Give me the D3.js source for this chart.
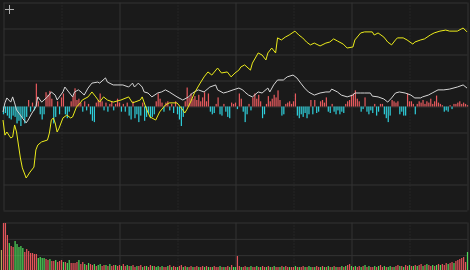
<!DOCTYPE html>
<html>
<head>
<meta charset="utf-8">
<script src="https://cdn.jsdelivr.net/npm/d3@7"></script>
<style>
  html, body { margin: 0; padding: 0; background: #1a1a1a; overflow: hidden; }
  svg { display: block; }
</style>
</head>
<body>
<div id="chart"></div>
<script>
'use strict';

// price line (yellow): minute index and change, 1 unit = one grid row
const priceMin = [0, 1, 2, 4, 5, 6, 7, 8, 9, 10, 12, 14, 16, 17, 18, 20, 23, 24, 25, 26, 27, 28, 29, 31, 33, 35, 36, 38, 40, 41, 44, 46, 48, 50, 52, 54, 57, 61, 65, 67, 71, 72, 74, 76, 79, 81, 84, 86, 90, 93, 94, 95, 97, 99, 102, 104, 106, 108, 111, 113, 116, 118, 120, 122, 123, 125, 128, 129, 132, 134, 136, 137, 139, 141, 142, 144, 146, 148, 151, 153, 155, 157, 159, 161, 164, 167, 169, 171, 173, 176, 178, 181, 182, 185, 187, 191, 192, 194, 197, 199, 201, 203, 204, 207, 209, 212, 213, 216, 218, 221, 223, 226, 229, 231, 235, 237, 238, 240];
const priceVal = [-0.54, -1.12, -1.00, -1.23, -1.19, -0.73, -1.00, -1.50, -2.00, -2.38, -2.77, -2.54, -2.35, -1.69, -1.50, -1.38, -1.31, -1.04, -0.54, -0.46, -0.65, -1.00, -0.85, -0.46, -0.35, -0.46, -0.42, -0.04, 0.12, 0.23, 0.35, 0.54, 0.35, 0.15, 0.35, 0.23, 0.15, 0.23, 0.35, 0.12, 0.23, 0.35, -0.08, -0.42, -0.54, -0.23, 0.04, 0.12, 0.12, -0.15, -0.27, -0.15, 0.15, 0.50, 0.88, 1.12, 1.31, 1.19, 1.46, 1.27, 1.31, 1.12, 1.27, 1.38, 1.50, 1.58, 1.38, 1.65, 2.04, 1.96, 1.77, 2.04, 2.23, 2.04, 2.62, 2.54, 2.65, 2.73, 2.88, 2.73, 2.62, 2.46, 2.35, 2.42, 2.31, 2.42, 2.46, 2.58, 2.50, 2.38, 2.23, 2.27, 2.54, 2.81, 2.85, 2.85, 2.73, 2.81, 2.65, 2.46, 2.35, 2.54, 2.62, 2.62, 2.54, 2.38, 2.46, 2.54, 2.58, 2.73, 2.81, 2.88, 2.92, 2.88, 2.88, 2.96, 3.00, 2.85];

// average line (white)
const avgMin = [0, 1, 2, 4, 5, 6, 7, 9, 10, 12, 13, 15, 17, 18, 20, 23, 25, 27, 28, 31, 32, 34, 36, 37, 39, 41, 42, 44, 46, 49, 50, 53, 54, 57, 59, 62, 65, 67, 68, 70, 72, 73, 75, 77, 80, 82, 84, 86, 90, 93, 96, 98, 101, 104, 107, 110, 111, 114, 116, 119, 122, 124, 125, 127, 129, 132, 134, 137, 138, 140, 142, 145, 147, 150, 152, 154, 156, 158, 161, 164, 167, 169, 170, 173, 175, 178, 181, 182, 185, 187, 190, 191, 194, 197, 199, 201, 203, 205, 208, 211, 213, 216, 217, 220, 222, 225, 228, 231, 235, 238, 240];
const avgVal = [-0.23, 0.12, 0.31, 0.15, 0.35, 0.12, -0.15, -0.35, -0.46, -0.65, -0.54, -0.27, -0.04, 0.35, 0.15, 0.35, 0.54, 0.42, 0.23, 0.54, 0.73, 0.54, 0.35, 0.54, 0.62, 0.50, 0.42, 0.69, 0.88, 0.92, 0.88, 1.08, 0.92, 0.81, 0.81, 0.81, 0.73, 0.88, 0.73, 0.88, 0.73, 0.54, 0.50, 0.35, 0.50, 0.54, 0.62, 0.54, 0.35, 0.23, 0.35, 0.50, 0.62, 0.54, 0.73, 0.81, 0.62, 0.50, 0.54, 0.62, 0.69, 0.62, 0.54, 0.42, 0.35, 0.54, 0.50, 0.69, 0.54, 0.81, 1.00, 1.00, 1.12, 1.19, 1.08, 0.88, 0.69, 0.54, 0.42, 0.50, 0.54, 0.54, 0.65, 0.54, 0.42, 0.35, 0.42, 0.50, 0.50, 0.50, 0.50, 0.38, 0.35, 0.27, 0.15, 0.31, 0.50, 0.54, 0.50, 0.42, 0.31, 0.31, 0.35, 0.42, 0.50, 0.62, 0.62, 0.65, 0.73, 0.81, 0.69];

// net flow bars around the zero line, one per minute
const netFlow = [
  -0.30, -0.25, -0.35, -0.45, -0.50, -0.35, -0.40, -0.65, -0.55, -0.75,
  -0.45, -0.65, -0.40, 0.25, -0.20, 0.15, -0.15, 0.88, 0.20, -0.30,
  -0.50, -0.30, 0.55, 0.45, 0.60, 0.30, -0.65, -0.40, 0.20, -0.30,
  0.35, 0.50, -0.30, -0.45, -0.20, 0.20, 0.40, 0.70, 0.25, 0.30,
  0.15, -0.20, 0.20, -0.15, 0.10, -0.30, -0.55, -0.60, 0.15, 0.25,
  0.50, 0.20, -0.15, 0.15, -0.20, 0.10, 0.20, -0.15, 0.10, 0.30,
  0.15, -0.20, 0.10, -0.20, 0.15, -0.35, -0.50, 0.20, -0.45, -0.30,
  -0.60, -0.35, 0.15, -0.55, -0.40, -0.25, -0.45, -0.40, -0.30, 0.20,
  0.50, 0.30, 0.15, -0.20, 0.15, 0.20, -0.15, 0.10, -0.25, 0.20,
  -0.30, -0.50, -0.75, -0.40, 0.20, 0.73, 0.35, 0.50, 0.30, 0.40,
  0.25, 0.45, 0.20, 0.35, 0.55, 0.20, 0.50, -0.20, -0.30, -0.25,
  0.10, 0.35, -0.30, -0.35, 0.10, -0.20, -0.40, -0.45, 0.15, 0.10,
  0.15, -0.10, 0.50, 0.30, -0.20, -0.60, -0.30, 0.10, -0.15, 0.35,
  0.50, 0.30, 0.45, 0.20, -0.45, -0.30, 0.10, 0.40, 0.20, 0.30,
  0.45, 0.35, 0.62, 0.25, -0.35, -0.30, 0.10, 0.15, 0.20, 0.10,
  0.20, 0.50, -0.35, -0.45, -0.30, -0.40, -0.25, -0.45, -0.30, 0.25,
  -0.30, 0.25, -0.25, -0.20, 0.20, 0.25, 0.15, 0.35, -0.20, -0.25,
  0.10, -0.20, -0.30, -0.15, -0.30, -0.20, -0.25, 0.10, 0.20, 0.25,
  0.45, 0.50, 0.62, 0.30, 0.20, -0.20, -0.10, 0.35, -0.20, -0.30,
  -0.15, -0.25, 0.10, -0.35, -0.20, 0.10, 0.10, -0.30, -0.45, -0.60,
  -0.35, 0.25, 0.20, 0.15, 0.20, -0.30, -0.20, -0.35, -0.35, 0.50,
  0.20, 0.20, 0.10, -0.30, 0.10, 0.20, 0.15, 0.25, 0.10, 0.20,
  0.15, 0.30, 0.10, 0.20, 0.42, 0.15, 0.10, 0.05, -0.20, -0.15,
  -0.20, 0.05, -0.10, 0.10, 0.10, 0.15, 0.20, 0.10, 0.15, 0.10, 0.05
];

// volume per minute and its direction (r = up, g = down)
const volume = [
  48, 48, 36, 28, 25, 24, 30, 27, 24, 25,
  23, 19, 22, 20, 18, 18, 17, 17, 13, 14,
  13, 13, 12, 11, 12, 10, 10, 11, 9, 10,
  11, 9, 9, 8, 11, 8, 8, 8, 9, 11,
  7, 9, 7, 6, 8, 7, 6, 7, 5, 6,
  7, 5, 6, 6, 5, 7, 5, 6, 6, 5,
  6, 5, 7, 5, 6, 5, 5, 6, 4, 5,
  5, 6, 4, 5, 5, 4, 6, 5, 5, 4,
  5, 4, 5, 4, 4, 5, 6, 4, 5, 4,
  4, 5, 6, 4, 5, 4, 4, 5, 4, 4,
  5, 4, 4, 5, 4, 5, 4, 4, 4, 5,
  4, 4, 5, 4, 4, 4, 5, 4, 6, 4,
  4, 15, 5, 4, 4, 5, 4, 4, 5, 4,
  4, 5, 4, 4, 5, 4, 4, 5, 4, 4,
  5, 4, 4, 4, 5, 4, 5, 4, 4, 4,
  4, 5, 4, 4, 4, 5, 4, 4, 5, 4,
  4, 4, 5, 4, 4, 5, 4, 4, 5, 4,
  4, 5, 4, 4, 4, 5, 4, 5, 6, 7,
  5, 4, 5, 4, 5, 4, 5, 6, 4, 5,
  4, 4, 5, 4, 5, 6, 4, 5, 4, 4,
  5, 4, 4, 5, 6, 5, 5, 4, 6, 5,
  6, 5, 5, 6, 5, 6, 7, 5, 6, 7,
  6, 5, 6, 5, 6, 7, 6, 7, 6, 8,
  7, 8, 9, 8, 10, 11, 12, 13, 14, 9, 19
];
const volDir = (
  'rrrgrrgggg' + 'grrrrrrrgg' + 'ggrrgrrgrr' + 'rgrggrrrrg' +
  'rrgrgrrgrg' + 'grrgrgrrgr' + 'rgrrgrgrrg' + 'rrgrgrrgrg' +
  'grgrrgrgrr' + 'grrgrgrrgr' + 'rgrrgrgrgr' + 'rrgrgrrgrg' +
  'grrgrrgrgr' + 'rgrgrrgrgr' + 'grrgrgrrgr' + 'rgrgrrgrgg' +
  'rgrrgrgrgr' + 'grgrrgrgrr' + 'grgrrgrgrg' + 'rrgrgrrgrg' +
  'grgrrgrgrr' + 'grgrgrrgrg' + 'rrgrgrgrrr' + 'grrgrrrrrr' + 'g'
).split('');
const auctionVolume = 21;

const timeTicks = [0, 30, 60, 90, 120, 150, 180, 210, 240];
const priceTicks = [-4, -3, -2, -1, 0, 1, 2, 3, 4];
const volTicks = [0, 49 / 3, 98 / 3, 49];

const colors = {
  bg: '#1a1a1a',
  grid: '#333333',
  price: '#ecec1a',
  avg: '#d6d6d6',
  up: '#e85a5e',
  down: '#2fd0dc',
  volUp: '#e4545a',
  volDown: '#4fd85a',
  auction: '#b8a458'
};

const width = 470, height = 270;
const barW = 1.2;

const svg = d3.select('#chart').append('svg')
  .attr('width', width)
  .attr('height', height);

svg.append('rect')
  .attr('width', width)
  .attr('height', height)
  .attr('fill', colors.bg);

const x = d3.scaleLinear().domain([0, 240]).range([3, 467]);
const y = d3.scaleLinear().domain([-4, 4]).range([210, 2]);
const yVol = d3.scaleLinear().domain([0, 49]).range([271, 222]);

// grid for a panel
function drawGrid(yScale, ticks) {
  const [bottom, top] = yScale.range();

  const gy = svg.append('g')
    .attr('transform', 'translate(3.5,0.5)')
    .call(d3.axisLeft(yScale).tickValues(ticks).tickSize(-(467 - 3)).tickFormat(''));
  gy.select('.domain').remove();
  gy.selectAll('line').attr('stroke', colors.grid);

  const gx = svg.append('g')
    .attr('transform', 'translate(0.5,' + (bottom + 0.5) + ')')
    .call(d3.axisBottom(x).tickValues(timeTicks).tickSize(-(bottom - top)).tickFormat(''));
  gx.select('.domain').remove();
  gx.selectAll('line')
    .attr('stroke', colors.grid)
    .attr('stroke-dasharray', d => (d % 60 === 30) ? '1,2' : null);
}

drawGrid(y, priceTicks);
drawGrid(yVol, volTicks);

// net flow bars
svg.append('g')
  .selectAll('rect')
  .data(netFlow)
  .join('rect')
    .attr('x', (d, i) => x(i) - barW / 2 + 0.5)
    .attr('y', d => Math.min(y(d), y(0)) + 0.5)
    .attr('width', barW)
    .attr('height', d => Math.abs(y(d) - y(0)))
    .attr('fill', d => d >= 0 ? colors.up : colors.down);

// average and price lines
const avgData = avgMin.map((m, i) => ({ m: m, v: avgVal[i] }));
const priceData = priceMin.map((m, i) => ({ m: m, v: priceVal[i] }));
const line = d3.line().x(d => x(d.m)).y(d => y(d.v));

svg.append('path')
  .datum(avgData)
  .attr('d', line)
  .attr('fill', 'none')
  .attr('stroke', colors.avg)
  .attr('stroke-width', 1);

svg.append('path')
  .datum(priceData)
  .attr('d', line)
  .attr('fill', 'none')
  .attr('stroke', colors.price)
  .attr('stroke-width', 1);

// volume bars
svg.append('g')
  .selectAll('rect')
  .data(volume)
  .join('rect')
    .attr('x', (d, i) => x(i) - barW / 2 + 0.5)
    .attr('y', d => yVol(d))
    .attr('width', barW)
    .attr('height', d => yVol(0) - yVol(d))
    .attr('fill', (d, i) => volDir[i] === 'r' ? colors.volUp : colors.volDown);

// opening auction bar, one slot before the first minute
svg.append('rect')
  .attr('x', x(-0.8) - barW / 2)
  .attr('y', yVol(auctionVolume))
  .attr('width', barW)
  .attr('height', yVol(0) - yVol(auctionVolume))
  .attr('fill', colors.auction);

// crosshair toggle icon
const icon = svg.append('g')
  .attr('stroke', '#b0b0b0')
  .attr('stroke-width', 1)
  .attr('shape-rendering', 'crispEdges');
icon.append('line').attr('x1', 9.5).attr('x2', 9.5).attr('y1', 5).attr('y2', 14);
icon.append('line').attr('x1', 5).attr('x2', 14).attr('y1', 9.5).attr('y2', 9.5);
</script>
</body>
</html>
